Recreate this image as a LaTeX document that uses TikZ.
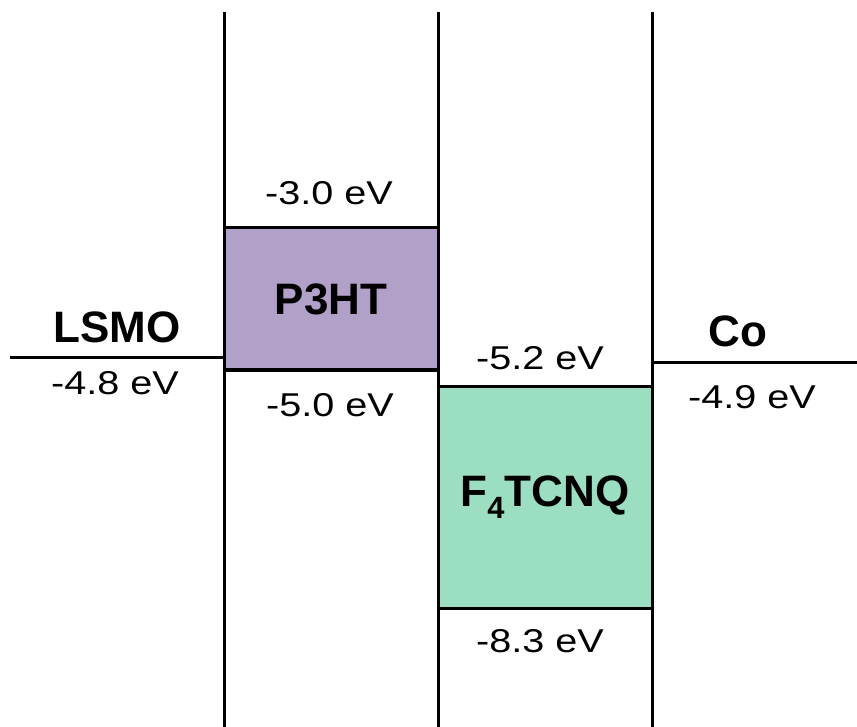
\documentclass[tikz,border=0pt]{standalone}
\usepackage{fontspec}
\setmainfont{Liberation Sans}
\usetikzlibrary{positioning}
\definecolor{hostviolet}{RGB}{177,160,199}
\definecolor{dopantgreen}{RGB}{156,222,194}

\begin{document}
\begin{tikzpicture}[
  x=1pt, y=-1pt,
  wall/.style={line width=3pt, black},
  band/.style={draw=black, line width=3pt, minimum width=214pt, inner sep=0pt,
               font=\fontsize{44}{50}\selectfont\bfseries},
  matlabel/.style={anchor=base, font=\fontsize{44}{50}\selectfont\bfseries},
  energy/.style={anchor=base, xscale=1.2, font=\fontsize{33}{38}\selectfont}
]
\useasboundingbox (0,0) rectangle (857,727);

% organic layers
\node[band, fill=hostviolet, minimum height=142pt] (p3ht) at (331,299) {P3HT};
\node[band, fill=dopantgreen, minimum height=222pt] (f4tcnq) at (545,497) {F\textsubscript{4}TCNQ};

% interface walls
\draw[wall] (224,12) -- (224,727);
\draw[wall] (438,12) -- (438,727);
\draw[wall] (652,12) -- (652,727);

% electrodes
\coordinate (lsmoL) at (10,358);
\coordinate (lsmoR) at (224,358);
\coordinate (coL) at (652,363);
\coordinate (coR) at (857,363);
\draw[wall] (lsmoL) -- (lsmoR);
\draw[wall] (coL) -- (coR);

\node[matlabel] (lsmo) at (117,342) {LSMO};
\node[matlabel] (co) at (738,347) {Co};

% levels
\node[energy] (p3htlumo) at (329,205) {-3.0 eV};
\node[energy] (p3hthomo) at (330,416) {-5.0 eV};
\node[energy] (f4lumo) at (540,370) {-5.2 eV};
\node[energy] (f4homo) at (540,652) {-8.3 eV};
\node[energy] (lsmowf) at (115,395) {-4.8 eV};
\node[energy] (cowf) at (752,408) {-4.9 eV};
\end{tikzpicture}
\end{document}
